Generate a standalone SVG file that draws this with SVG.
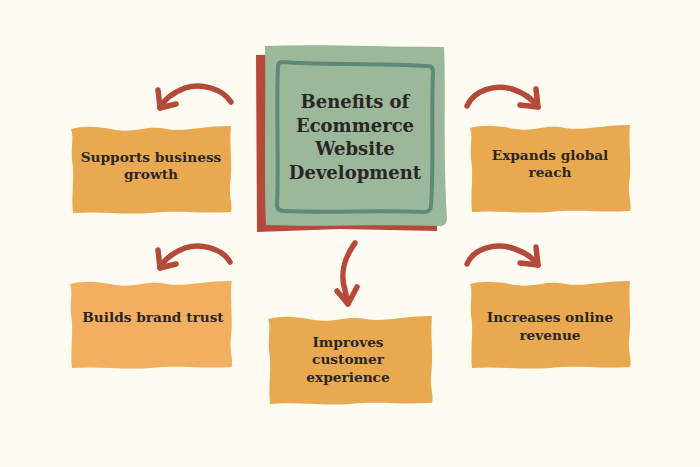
<svg xmlns="http://www.w3.org/2000/svg" xmlns:xlink="http://www.w3.org/1999/xlink" width="700" height="467" viewBox="0 0 700 467">
<defs>
<style>
.bg{fill:#FEFBF1}
.box{fill:#E8A951}
.box2{fill:#F2AF5F}
.lbl{font-family:"DejaVu Serif","Liberation Serif",serif;font-weight:bold;font-size:13.7px;fill:#2A2623;text-anchor:middle}
.title{font-family:"DejaVu Serif","Liberation Serif",serif;font-weight:bold;font-size:18px;fill:#2A2623;text-anchor:middle}
.arr{fill:none;stroke:#B5493C;stroke-width:5.5;stroke-linecap:round;stroke-linejoin:round}
</style>
<path id="wavy" d="M0,4 C15,0 30,2 45,5 C65,8 75,0 95,4 C115,7 130,1 160,1 C158,20 162,40 159,60 C158,72 162,80 160,87 C130,89 110,85 80,88 C50,90 30,86 2,88 C0,70 4,50 1,35 C0,20 3,12 0,4 Z"/>
</defs>
<rect class="bg" x="0" y="0" width="700" height="467"/>

<g id="center">
<path d="M256,55 L300,54 L438,56 L437,231 L340,229 L257,232 Z" fill="#B5493C"/>
<path d="M265,46 C320,44 380,47 444,47 C446,90 443,150 447,218 C447,224 444,226 440,226 C380,224 320,227 266,225 C264,170 266,100 265,46 Z" fill="#9BB89B"/>
<path d="M282,62 C320,65 370,63 428,66 C432,66 433,68 433,72 C431,120 434,160 431,206 C431,210 428,212 424,212 C380,210 330,213 284,211 C279,211 277,209 277,205 C279,160 276,110 278,67 C278,63 280,62 282,62 Z" fill="none" stroke="#5F8878" stroke-width="4"/>
<text class="title"><tspan x="355" y="108">Benefits of</tspan><tspan x="355" y="132">Ecommerce</tspan><tspan x="355" y="155">Website</tspan><tspan x="355" y="179">Development</tspan></text>
</g>

<g id="n1">
<use xlink:href="#wavy" class="box" transform="translate(71,125)"/>
<text class="lbl"><tspan x="151" y="162">Supports business</tspan><tspan x="151" y="179">growth</tspan></text>
</g>
<g id="n2">
<use xlink:href="#wavy" class="box" transform="translate(470,124)"/>
<text class="lbl"><tspan x="550" y="160">Expands global</tspan><tspan x="550" y="177">reach</tspan></text>
</g>
<g id="n3">
<use xlink:href="#wavy" class="box2" transform="translate(70,280) scale(1.01,1)"/>
<text class="lbl"><tspan x="153" y="322">Builds brand trust</tspan></text>
</g>
<g id="n4">
<use xlink:href="#wavy" class="box" transform="translate(470,280)"/>
<text class="lbl"><tspan x="550" y="322">Increases online</tspan><tspan x="550" y="340">revenue</tspan></text>
</g>
<g id="n5">
<use xlink:href="#wavy" class="box" transform="translate(268,315) scale(1.025,1.01)"/>
<text class="lbl"><tspan x="348" y="347">Improves</tspan><tspan x="348" y="364">customer</tspan><tspan x="348" y="382">experience</tspan></text>
</g>

<g id="connectors">
<path class="arr" d="M231,102 C222,88 200,83 185,88 C172,93 164,100 160,108"/>
<path class="arr" d="M158,90 L160,108 L176,104"/>
<path class="arr" d="M467,106 C474,90 495,84 512,89 C525,93 533,100 538,107"/>
<path class="arr" d="M536,89 L538,107 L520,105"/>
<path class="arr" d="M230,262 C222,248 200,243 185,248 C172,253 164,260 160,268"/>
<path class="arr" d="M158,250 L160,268 L176,264"/>
<path class="arr" d="M467,264 C474,248 495,243 512,248 C525,252 533,258 538,265"/>
<path class="arr" d="M536,247 L538,265 L520,263"/>
<path class="arr" d="M355,243 C344,258 340,275 345,290 C346,296 347,300 348,304"/>
<path class="arr" d="M337,291 L348,304 L357,287"/>
</g>
</svg>
